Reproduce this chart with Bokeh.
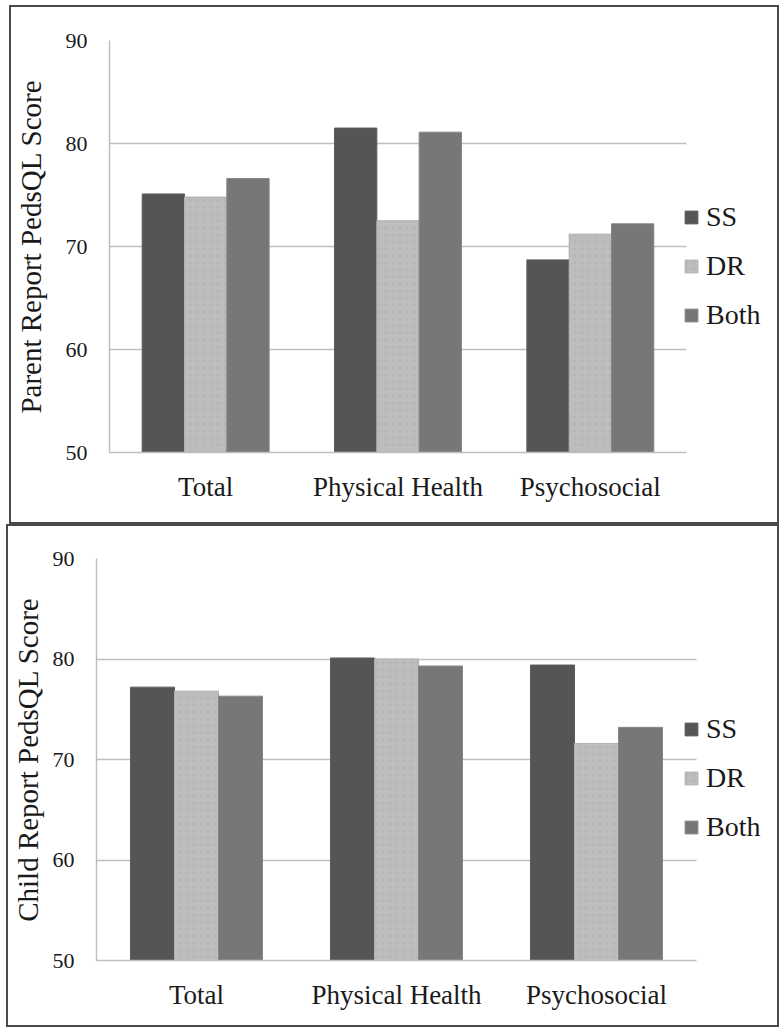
from bokeh.plotting import figure
from bokeh.layouts import column
from bokeh.models import (Range1d, Legend, LegendItem, FixedTicker,
                          ColumnDataSource)
from bokeh.transform import dodge
from bokeh.embed import file_html
from bokeh.resources import INLINE

# ---------------- data ----------------
categories = ["Total", "Physical Health", "Psychosocial"]
series_names = ["SS", "DR", "Both"]
parent_ss = [75.1, 81.5, 68.7]
parent_dr = [74.8, 72.5, 71.2]
parent_both = [76.6, 81.1, 72.2]
child_ss = [77.2, 80.1, 79.4]
child_dr = [76.8, 80.0, 71.6]
child_both = [76.3, 79.3, 73.2]
y_ticks = [50, 60, 70, 80, 90]
y_start, y_end = 50, 90

FONT = "Liberation Serif"
FILL = {"SS": "#555555", "DR": "#bdbdbd", "Both": "#777777"}
EDGE = {"SS": "#5c5c5c", "DR": "#b0b0b0", "Both": "#868686"}

cat_pos = [i + 0.5 for i in range(len(categories))]
n_cat = len(categories)


def make_panel(title, ss, dr, both, width, height, borders, x_end, legend_loc,
               title_standoff):
    bl, br, bt, bb = borders
    p = figure(x_range=Range1d(0, x_end), y_range=Range1d(y_start, y_end),
               width=width, height=height, output_backend="svg",
               sizing_mode="fixed",
               toolbar_location=None, min_border_left=bl, min_border_right=br,
               min_border_top=bt, min_border_bottom=bb)
    p.outline_line_color = None
    p.background_fill_color = "white"
    p.border_fill_color = "white"

    src = ColumnDataSource(dict(x=cat_pos, SS=ss, DR=dr, Both=both,
                                base=[y_start] * n_cat))
    offsets = {"SS": -0.22, "DR": 0.0, "Both": 0.22}
    renderers = {}
    for name in series_names:
        kw = {}
        if name == "DR":
            kw = dict(hatch_pattern="dot", hatch_color="#9a9a9a",
                      hatch_alpha=0.22, hatch_scale=7, hatch_weight=0.6)
        r = p.vbar(x=dodge("x", offsets[name]), top=name,
                   bottom="base", width=0.22, source=src,
                   fill_color=FILL[name], line_color=EDGE[name], line_width=1,
                   **kw)
        renderers[name] = r

    p.xgrid.grid_line_color = None
    p.ygrid.grid_line_color = "#bfbfbf"
    p.ygrid.grid_line_width = 1.5
    p.ygrid.ticker = FixedTicker(ticks=y_ticks)
    p.ygrid.cross_bounds = (0, n_cat)

    ya = p.yaxis[0]
    ya.ticker = FixedTicker(ticks=y_ticks)
    ya.axis_line_color = "#bfbfbf"
    ya.axis_line_width = 1.5
    ya.major_tick_line_color = None
    ya.minor_tick_line_color = None
    ya.major_tick_out = 0
    ya.major_tick_in = 0
    ya.major_label_standoff = 22
    ya.major_label_text_font = FONT
    ya.major_label_text_font_size = "22px"
    ya.major_label_text_color = "#1a1a1a"
    ya.axis_label = title
    ya.axis_label_text_font = FONT
    ya.axis_label_text_font_size = "29px"
    ya.axis_label_text_font_style = "normal"
    ya.axis_label_text_color = "#1a1a1a"
    ya.axis_label_standoff = title_standoff

    xa = p.xaxis[0]
    xa.ticker = FixedTicker(ticks=cat_pos)
    xa.major_label_overrides = {c: lab for c, lab in zip(cat_pos, categories)}
    xa.bounds = (0, n_cat)
    xa.axis_line_color = "#bfbfbf"
    xa.axis_line_width = 1.5
    xa.major_tick_line_color = None
    xa.minor_tick_line_color = None
    xa.major_tick_out = 0
    xa.major_tick_in = 0
    xa.major_label_standoff = 19
    xa.major_label_text_font = FONT
    xa.major_label_text_font_size = "27px"
    xa.major_label_text_color = "#1a1a1a"

    legend = Legend(items=[LegendItem(label=n, renderers=[renderers[n]])
                           for n in series_names],
                    location=legend_loc, orientation="vertical",
                    glyph_width=16, glyph_height=16, label_height=30,
                    spacing=17, label_standoff=7, padding=0, margin=0,
                    border_line_color=None, background_fill_alpha=0,
                    label_text_font=FONT, label_text_font_size="28px",
                    label_text_color="#1a1a1a")
    p.add_layout(legend)
    return p


# top: frame 577 px for 3 categories, 668 px total
top = make_panel("Parent Report PedsQL Score", parent_ss, parent_dr, parent_both,
                 766, 515, (98, 0, 33, 70), 3 * 668 / 577, (574, 121), 16)
# bottom: frame 600 px for 3 categories, 681 px total
bottom = make_panel("Child Report PedsQL Score", child_ss, child_dr, child_both,
                    769, 499, (88, 0, 32, 65), 3 * 681 / 600, (587, 117), 6)

box_top = column(top, width=770, height=519, sizing_mode="fixed",
                 margin=(5, 0, 0, 9),
                 styles={"border": "2px solid #4a4a4a"})
box_bottom = column(bottom, width=773, height=503, sizing_mode="fixed",
                    margin=(0, 0, 0, 6),
                    styles={"border": "2px solid #4a4a4a"})
layout = column(box_top, box_bottom, spacing=0)

with open("out.html", "w") as f:
    f.write(file_html(layout, INLINE))
